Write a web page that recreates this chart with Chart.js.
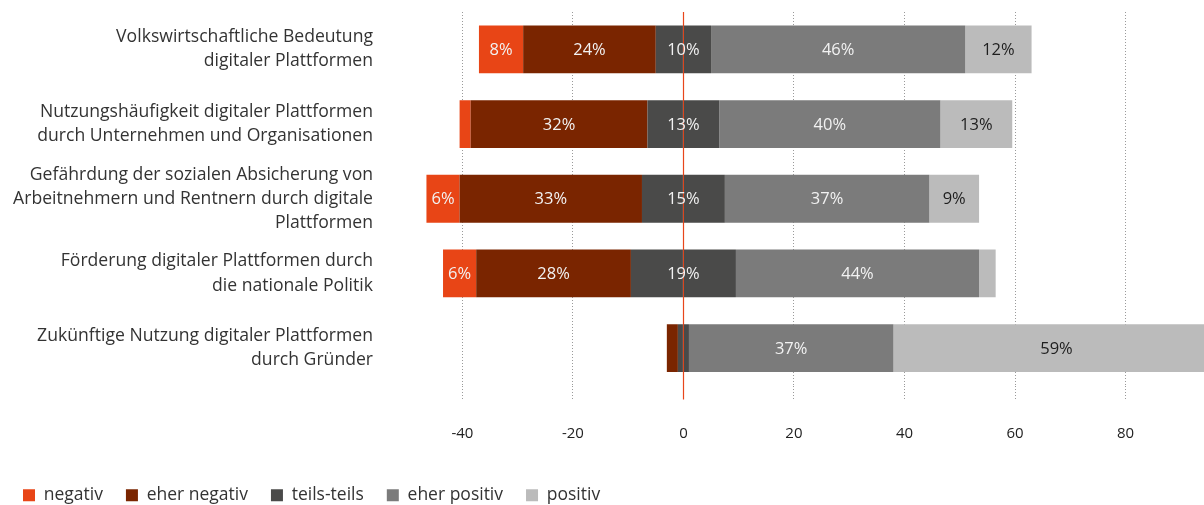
<!DOCTYPE html>
<html>
<head>
<meta charset="utf-8">
<script src="https://cdn.jsdelivr.net/npm/chart.js@4.4.0/dist/chart.umd.min.js"></script>
<style>
    html, body { margin: 0; padding: 0; background: #fff; }
    #wrap { width: 1204px; height: 505px; }
</style>
</head>
<body>
<div id="wrap"><canvas id="platformChart"></canvas></div>
<script>
const categories = [
    ['Volkswirtschaftliche Bedeutung', 'digitaler Plattformen'],
    ['Nutzungshäufigkeit digitaler Plattformen', 'durch Unternehmen und Organisationen'],
    ['Gefährdung der sozialen Absicherung von', 'Arbeitnehmern und Rentnern durch digitale', 'Plattformen'],
    ['Förderung digitaler Plattformen durch', 'die nationale Politik'],
    ['Zukünftige Nutzung digitaler Plattformen', 'durch Gründer']
];
const negativ = [8, 2, 6, 6, 0];
const eherNegativ = [24, 32, 33, 28, 2];
const teilsTeils = [10, 13, 15, 19, 2];
const eherPositiv = [46, 40, 37, 44, 37];
const positiv = [12, 13, 9, 3, 59];
const xTicks = [-40, -20, 0, 20, 40, 60, 80];

const FONT = '"Open Sans", "Noto Sans", sans-serif';
const GRID_GRAY = '#9a9a9a';
const ZERO_COLOR = '#e8461b';

// percentage labels inside the bars
const barLabels = {
    id: 'barLabels',
    afterDatasetsDraw(chart) {
        const ctx = chart.ctx;
        const xScale = chart.scales.x;
        ctx.save();
        ctx.font = '16.5px ' + FONT;
        ctx.textAlign = 'center';
        ctx.textBaseline = 'middle';
        chart.data.datasets.forEach((ds, i) => {
            if (!ds.shares) return;
            const meta = chart.getDatasetMeta(i);
            meta.data.forEach((bar, j) => {
                const v = ds.shares[j];
                if (v < 5) return;
                const x = ds.centerOnZero ? xScale.getPixelForValue(0) : (bar.x + bar.base) / 2;
                ctx.fillStyle = ds.labelColor;
                ctx.fillText(v + '%', x, bar.y + 1);
            });
        });
        ctx.restore();
    }
};

// solid line at zero, behind the bars
const zeroLine = {
    id: 'zeroLine',
    beforeDatasetsDraw(chart) {
        const ctx = chart.ctx;
        const x = Math.round(chart.scales.x.getPixelForValue(0)) + 0.5;
        ctx.save();
        ctx.strokeStyle = ZERO_COLOR;
        ctx.lineWidth = 1.2;
        ctx.beginPath();
        ctx.moveTo(x, chart.chartArea.top);
        ctx.lineTo(x, chart.chartArea.bottom + 14);
        ctx.stroke();
        ctx.restore();
    }
};

const ctx = document.getElementById('platformChart').getContext('2d');
const chart = new Chart(ctx, {
    type: 'bar',
    data: {
        labels: categories,
        datasets: [
            {
                label: 'teils-teils',
                data: teilsTeils.map(v => -v / 2),
                backgroundColor: '#4a4a49',
                shares: teilsTeils,
                centerOnZero: true,
                labelColor: '#f2f2f2',
                legendRank: 2
            },
            {
                label: 'teils-teils',
                data: teilsTeils.map(v => v / 2),
                backgroundColor: '#4a4a49',
                noLegend: true
            },
            {
                label: 'eher negativ',
                data: eherNegativ.map(v => -v),
                backgroundColor: '#7a2500',
                shares: eherNegativ,
                labelColor: '#f2f2f2',
                legendRank: 1
            },
            {
                label: 'eher positiv',
                data: eherPositiv,
                backgroundColor: '#7b7b7b',
                shares: eherPositiv,
                labelColor: '#f2f2f2',
                legendRank: 3
            },
            {
                label: 'negativ',
                data: negativ.map(v => -v),
                backgroundColor: '#e84516',
                shares: negativ,
                labelColor: '#f2f2f2',
                legendRank: 0
            },
            {
                label: 'positiv',
                data: positiv,
                backgroundColor: '#bbbbbb',
                shares: positiv,
                labelColor: '#1e1e1e',
                legendRank: 4
            }
        ]
    },
    options: {
        indexAxis: 'y',
        responsive: true,
        maintainAspectRatio: false,
        animation: false,
        layout: {
            padding: { top: 12, bottom: -9, left: 0, right: 0 }
        },
        datasets: {
            bar: {
                categoryPercentage: 1,
                barPercentage: 0.64,
                borderWidth: 0
            }
        },
        plugins: {
            legend: {
                position: 'bottom',
                align: 'start',
                labels: {
                    boxWidth: 12,
                    boxHeight: 12,
                    padding: 23,
                    color: '#333',
                    font: { family: FONT, size: 17.5 },
                    filter: (item, data) => !data.datasets[item.datasetIndex].noLegend,
                    sort: (a, b, data) => data.datasets[a.datasetIndex].legendRank - data.datasets[b.datasetIndex].legendRank
                }
            },
            tooltip: { enabled: false }
        },
        scales: {
            x: {
                stacked: true,
                min: -54,
                max: 94.2,
                afterBuildTicks: scale => {
                    scale.ticks = xTicks.map(v => ({ value: v }));
                },
                afterFit: scale => {
                    scale.height = 78;
                },
                grid: {
                    color: c => (c.tick && c.tick.value === 0) ? 'rgba(0,0,0,0)' : GRID_GRAY,
                    tickColor: c => (c.tick && c.tick.value === 0) ? 'rgba(0,0,0,0)' : GRID_GRAY,
                    tickBorderDash: [1, 2],
                    tickLength: 14,
                    lineWidth: 1
                },
                border: { display: false, dash: [1, 2] },
                ticks: {
                    color: '#222',
                    padding: 25,
                    font: { family: FONT, size: 15 }
                }
            },
            y: {
                stacked: true,
                afterFit: scale => {
                    scale.width = 385;
                    scale.paddingTop = 0;
                    scale.paddingBottom = 0;
                },
                grid: { display: false, drawTicks: false },
                border: { display: false },
                ticks: {
                    autoSkip: false,
                    color: '#333',
                    padding: 12,
                    font: { family: FONT, size: 17.6, lineHeight: 1.37 }
                }
            }
        }
    },
    plugins: [zeroLine, barLabels]
});
</script>
</body>
</html>
